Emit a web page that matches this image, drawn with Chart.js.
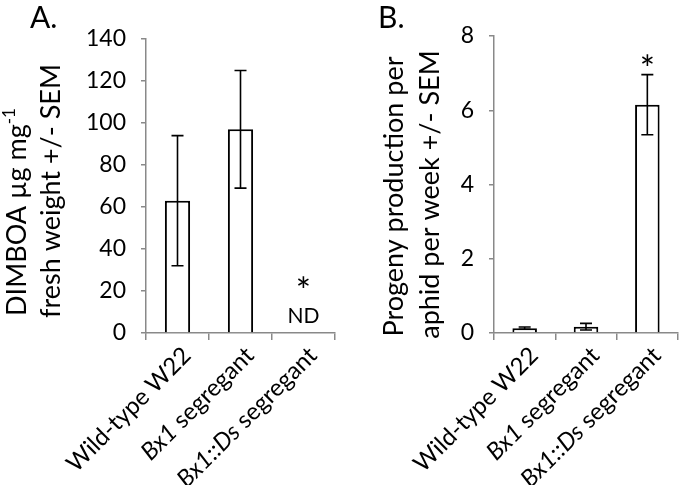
<!DOCTYPE html>
<html>
<head>
<meta charset="utf-8">
<script src="https://cdn.jsdelivr.net/npm/chart.js@4.4.1/dist/chart.umd.min.js"></script>
<style>
  body { margin: 0; background: #fff; }
  #wrap { position: relative; width: 680px; height: 485px; }
  canvas { position: absolute; top: 0; }
  #chartA { left: 0; }
  #chartB { left: 340px; }
</style>
</head>
<body>
<div id="wrap">
  <canvas id="chartA" width="340" height="485"></canvas>
  <canvas id="chartB" width="340" height="485"></canvas>
</div>
<script>
const categories = ["Wild-type W22", "Bx1 segregant", "Bx1::Ds segregant"];
const italicParts = ["", "Bx1", "Bx1::Ds"];

// panel A: DIMBOA (ND for the Ds line)
const dimboaMean = [63, 97, null];
const dimboaSem = [31, 28, null];
const dimboaTicks = { min: 0, max: 140, step: 20 };

// panel B: aphid progeny
const progenyMean = [0.13, 0.17, 6.15];
const progenySem = [0.03, 0.09, 0.81];
const progenyTicks = { min: 0, max: 8, step: 2 };

// text marks placed on the data scales (value = baseline)
const notesA = [
  { cat: 2, value: 13.8, text: "*", size: 36 },
  { cat: 2, value: 4.8, text: "ND", size: 21 },
];
const notesB = [{ cat: 2, value: 6.76, text: "*", size: 36 }];

const FONT = "Lato, 'Open Sans', sans-serif";
const axisGray = "#898989";

const errorBars = {
  id: "errorBars",
  afterDatasetsDraw(chart) {
    const ctx = chart.ctx;
    const y = chart.scales.y;
    const meta = chart.getDatasetMeta(0);
    const means = chart.data.datasets[0].data;
    const sems = chart.data.datasets[0].sem;
    ctx.save();
    ctx.strokeStyle = "#000";
    ctx.lineWidth = 1.6;
    means.forEach((m, i) => {
      if (m == null) return;
      const x = meta.data[i].x;
      const hi = y.getPixelForValue(m + sems[i]);
      const lo = y.getPixelForValue(m - sems[i]);
      ctx.beginPath();
      ctx.moveTo(x, hi); ctx.lineTo(x, lo);
      ctx.moveTo(x - 6, hi); ctx.lineTo(x + 6, hi);
      ctx.moveTo(x - 6, lo); ctx.lineTo(x + 6, lo);
      ctx.stroke();
    });
    ctx.restore();
  },
};

const xLabels = {
  id: "xLabels",
  afterDraw(chart) {
    const ctx = chart.ctx;
    const xs = chart.scales.x;
    const bottom = chart.chartArea.bottom;
    const reg = "24px " + FONT;
    const ital = "italic 24px " + FONT;
    ctx.save();
    ctx.fillStyle = "#000";
    ctx.textBaseline = "top";
    ctx.textAlign = "left";
    categories.forEach((label, i) => {
      const it = italicParts[i];
      const rest = label.slice(it.length);
      ctx.font = ital;
      const w1 = ctx.measureText(it).width;
      ctx.font = reg;
      const w2 = ctx.measureText(rest).width;
      ctx.save();
      ctx.translate(xs.getPixelForValue(i) + 1, bottom + 10);
      ctx.rotate(-Math.PI / 4);
      ctx.font = ital;
      ctx.fillText(it, -(w1 + w2), 0);
      ctx.font = reg;
      ctx.fillText(rest, -w2, 0);
      ctx.restore();
    });
    ctx.restore();
  },
};

const notes = {
  id: "notes",
  afterDraw(chart, args, opts) {
    const ctx = chart.ctx;
    ctx.save();
    ctx.fillStyle = "#000";
    ctx.textAlign = "center";
    ctx.textBaseline = "alphabetic";
    opts.items.forEach((n) => {
      ctx.font = n.size + "px " + FONT;
      ctx.fillText(n.text, chart.scales.x.getPixelForValue(n.cat), chart.scales.y.getPixelForValue(n.value));
    });
    ctx.restore();
  },
};

// rotated y title, each line centred on its own, with superscript support
const yTitle = {
  id: "yTitle",
  afterDraw(chart, args, opts) {
    const ctx = chart.ctx;
    const area = chart.chartArea;
    const mid = (area.top + area.bottom) / 2;
    ctx.save();
    ctx.fillStyle = "#000";
    ctx.textBaseline = "alphabetic";
    ctx.textAlign = "left";
    opts.lines.forEach((line) => {
      let total = 0;
      const widths = line.parts.map((p) => {
        ctx.font = (p.sup ? 17 : 27) + "px " + FONT;
        const w = ctx.measureText(p.text).width;
        total += w;
        return w;
      });
      ctx.save();
      ctx.translate(line.x, mid + line.dy);
      ctx.rotate(-Math.PI / 2);
      let pos = -total / 2;
      line.parts.forEach((p, k) => {
        ctx.font = (p.sup ? 17 : 27) + "px " + FONT;
        ctx.fillText(p.text, pos, p.sup ? -11 : 0);
        pos += widths[k];
      });
      ctx.restore();
    });
    ctx.restore();
  },
};

const panelLetter = {
  id: "panelLetter",
  afterDraw(chart, args, opts) {
    const ctx = chart.ctx;
    ctx.save();
    ctx.fillStyle = "#000";
    ctx.font = "30px " + FONT;
    ctx.textBaseline = "alphabetic";
    ctx.fillText(opts.text, opts.x, opts.y);
    ctx.restore();
  },
};

function makeChart(id, means, sems, ticks, titleLines, box, noteItems, letter) {
  return new Chart(document.getElementById(id), {
    type: "bar",
    data: {
      labels: categories,
      datasets: [{
        data: means,
        sem: sems,
        backgroundColor: "#fff",
        borderColor: "#000",
        borderWidth: 2,
        barPercentage: 0.4,
        categoryPercentage: 1.0,
      }],
    },
    options: {
      responsive: false,
      animation: false,
      devicePixelRatio: 1,
      layout: { padding: { left: 0, right: box.right, top: box.top, bottom: 0 } },
      plugins: {
        legend: { display: false },
        tooltip: { enabled: false },
        notes: { items: noteItems },
        yTitle: { lines: titleLines },
        panelLetter: letter,
      },
      scales: {
        x: {
          afterFit: (s) => { s.height = 152; },
          ticks: { display: false },
          grid: { drawOnChartArea: false, drawTicks: true, tickLength: 7, color: axisGray, lineWidth: 1.5 },
          border: { color: axisGray, width: 1.5 },
        },
        y: {
          min: ticks.min,
          max: ticks.max,
          afterFit: (s) => { s.width = box.left; },
          ticks: { stepSize: ticks.step, color: "#000", padding: 15, font: { family: FONT, size: 23 } },
          grid: { drawOnChartArea: false, drawTicks: true, tickLength: 5, color: axisGray, lineWidth: 1.5 },
          border: { color: axisGray, width: 1.5 },
        },
      },
    },
    plugins: [errorBars, xLabels, notes, yTitle, panelLetter],
  });
}

makeChart("chartA", dimboaMean, dimboaSem, dimboaTicks,
  [
    { x: 26, dy: 26, parts: [{ text: "DIMBOA \u00b5g mg" }, { text: "-1", sup: true }] },
    { x: 60, dy: 5, parts: [{ text: "fresh weight +/- SEM" }] },
  ],
  { left: 146, right: 5, top: 39 }, notesA,
  { text: "A.", x: 30, y: 28 });

makeChart("chartB", progenyMean, progenySem, progenyTicks,
  [
    { x: 63, dy: 12, parts: [{ text: "Progeny production per" }] },
    { x: 99, dy: 10, parts: [{ text: "aphid per week +/- SEM" }] },
  ],
  { left: 154, right: 2, top: 36 }, notesB,
  { text: "B.", x: 38, y: 28 });
</script>
</body>
</html>
